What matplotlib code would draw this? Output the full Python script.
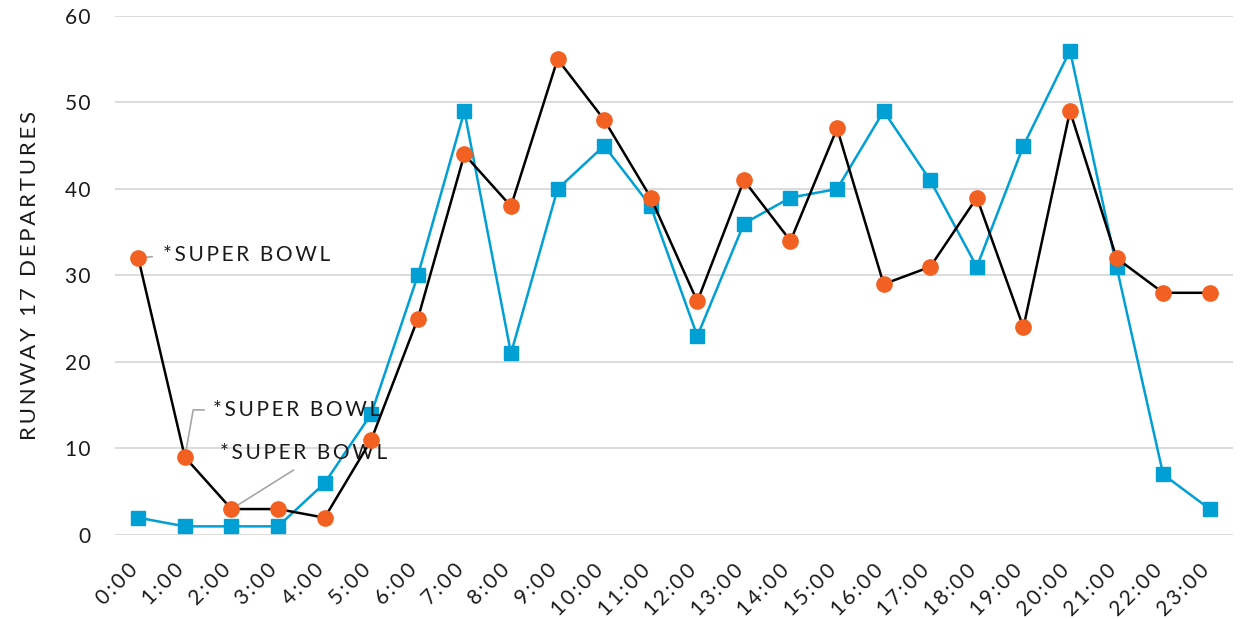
import matplotlib
matplotlib.use("Agg")
import matplotlib.pyplot as plt
from matplotlib.transforms import ScaledTranslation

hours = [f"{h}:00" for h in range(24)]
blue_counts = [2, 1, 1, 1, 6, 14, 30, 49, 21, 40, 45, 38,
               23, 36, 39, 40, 49, 41, 31, 45, 56, 31, 7, 3]
orange_counts = [32, 9, 3, 3, 2, 11, 25, 44, 38, 55, 48, 39,
                 27, 41, 34, 47, 29, 31, 39, 24, 49, 32, 28, 28]
# hours flagged as super bowl traffic
flagged = [0, 1, 2]

BLUE = "#009FD4"
ORANGE = "#F26122"
GRID = "#D9D9D9"
TXT = "#1a1a1a"


def spaced(s, gap="\u2009"):
    # poor man's letter tracking
    return gap.join(s)


plt.rcParams["font.family"] = ["Lato", "DejaVu Sans"]

fig = plt.figure(figsize=(12.42, 6.19), dpi=100)
ax = fig.add_axes([0.0926, 0.1357, 0.9002, 0.8385])

x = list(range(len(hours)))
ax.plot(x, blue_counts, color=BLUE, lw=1.8, marker="s", ms=10,
        mfc=BLUE, mec=BLUE, zorder=3)
ax.plot(x, orange_counts, color="black", lw=1.8, marker="o", ms=11,
        mfc=ORANGE, mec=ORANGE, zorder=4)

ax.set_xlim(-0.5, len(hours) - 0.5)
ax.set_ylim(0, 60)
ax.set_yticks(range(0, 61, 10))
ax.set_yticklabels([spaced(str(v), "\u200a") for v in range(0, 61, 10)])
ax.grid(axis="y", color=GRID, lw=1.3)
ax.set_axisbelow(True)
for s in ax.spines.values():
    s.set_visible(False)
ax.tick_params(length=0, labelsize=15, labelcolor=TXT)
ax.tick_params(axis="y", pad=18)
ax.set_xticks(x)
ax.set_xticklabels([spaced(h) for h in hours], rotation=45, ha="right",
                   rotation_mode="anchor")
ax.tick_params(axis="x", pad=18)
# pull rotated labels back so they end under their tick
shift = ScaledTranslation(-0.11, 0, fig.dpi_scale_trans)
for lab in ax.get_xticklabels():
    lab.set_transform(lab.get_transform() + shift)

ax.set_ylabel(spaced("RUNWAY 17 DEPARTURES"), fontsize=16, color=TXT)
ax.yaxis.set_label_coords(-0.067, 0.5)

# callouts with leader lines
label = spaced("*SUPER BOWL")
lead = dict(arrowstyle="-", color="#A6A6A6", lw=1.2, shrinkA=0, shrinkB=6)
ax.annotate(label, xy=(flagged[0], orange_counts[flagged[0]]),
            xytext=(18, 2), textcoords="offset points", fontsize=15,
            va="center", ha="left", color=TXT,
            arrowprops=dict(lead, relpos=(0, 0.5), shrinkA=6))
ax.annotate(label, xy=(flagged[1], orange_counts[flagged[1]]),
            xytext=(20, 34), textcoords="offset points", fontsize=15,
            va="center", ha="left", color=TXT,
            arrowprops=dict(lead, relpos=(-0.05, 0.5),
                            connectionstyle="angle,angleA=0,angleB=80,rad=0"))
ax.annotate(label, xy=(flagged[2], orange_counts[flagged[2]]),
            xytext=(-8, 40), textcoords="offset points", fontsize=15,
            va="center", ha="left", color=TXT,
            arrowprops=dict(lead, relpos=(0.5, 0.0), shrinkA=5))

fig.savefig("out.png", dpi=100)
